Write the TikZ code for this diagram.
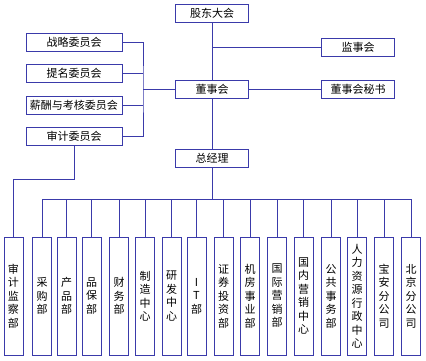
\documentclass[tikz,border=0pt]{standalone}
\usepackage{fontspec}
\newfontfamily\cjk{Noto Sans CJK SC}
\usetikzlibrary{positioning}
\definecolor{orgblue}{RGB}{58,58,170}

\begin{document}
\begin{tikzpicture}[x=1pt, y=-1pt, line width=1pt, draw=orgblue,
  box/.style={draw=orgblue, line width=1pt, minimum height=18pt, inner sep=0pt, font=\cjk\fontsize{11}{13}\selectfont},
  hbox/.style={box, minimum width=73pt},
  cbox/.style={box, minimum width=96pt},
  vbox/.style={box, minimum width=19pt, minimum height=118pt, align=center,
    font=\cjk\fontsize{11}{13.5}\selectfont}]
  \useasboundingbox (0,0) rectangle (426,360);
  % top line
  \node[hbox] (gd) at (212,13) {股东大会};
  \node[hbox] (dsh) at (212,89) {董事会};
  \node[hbox] (zjl) at (212,158) {总经理};
  \node[hbox] (jsh) at (358,47.5) {监事会};
  \node[hbox] (ms) at (358,89) {董事会秘书};
  % committees
  \node[cbox] (zl) at (74,42.5) {战略委员会};
  \node[cbox] (tm) at (74,73.5) {提名委员会};
  \node[cbox] (xc) at (74,105) {薪酬与考核委员会};
  \node[cbox] (sj) at (74,136.5) {审计委员会};
  \draw[orgblue] (gd.south) -- (dsh.north);
  \draw[orgblue] (dsh.south) -- (zjl.north);
  \draw[orgblue] (gd.south |- jsh.west) -- (jsh.west);
  \draw[orgblue] (dsh.east) -- (ms.west);
  \coordinate (cbus) at (143,89);
  \draw[orgblue] (zl.east) -| (cbus) |- (sj.east);
  \draw[orgblue] (tm.east) -- (tm.east -| cbus);
  \draw[orgblue] (xc.east) -- (xc.east -| cbus);
  \draw[orgblue] (cbus) -- (dsh.west);
  % departments
  \node[vbox] (sjjc) at (13.5,296) {审\\计\\监\\察\\部};
  \foreach \x/\n/\t in {42/cg/采\\购\\部, 66.5/cp/产\\品\\部, 91.5/pb/品\\保\\部,
      119/cw/财\\务\\部, 145/zz/制\\造\\中\\心, 171.5/yf/研\\发\\中\\心,
      196.5/it/I\\T\\部, 223.5/zq/证\\券\\投\\资\\部, 250/jf/机\\房\\事\\业\\部,
      277/gj/国\\际\\营\\销\\部, 303.5/gn/国\\内\\营\\销\\中\\心,
      331/gg/公\\共\\事\\务\\部, 357/rl/人\\力\\资\\源\\行\\政\\中\\心,
      384/ba/宝\\安\\分\\公\\司, 411/bj/北\\京\\分\\公\\司}{
    \node[vbox] (\n) at (\x,296) {\t};
  }
  \coordinate (gbus) at (212,199);
  \draw[orgblue] (zjl.south) -- (gbus);
  \draw[orgblue] (cg.north |- gbus) -- (bj.north |- gbus);
  \foreach \n in {cg,cp,pb,cw,zz,yf,it,zq,jf,gj,gn,gg,rl,ba,bj}
    \draw[orgblue] (\n.north |- gbus) -- (\n.north);
  \coordinate (sjturn) at (74,179);
  \draw[orgblue] (sj.south) -- (sjturn) -| (sjjc.north);
\end{tikzpicture}
\end{document}
